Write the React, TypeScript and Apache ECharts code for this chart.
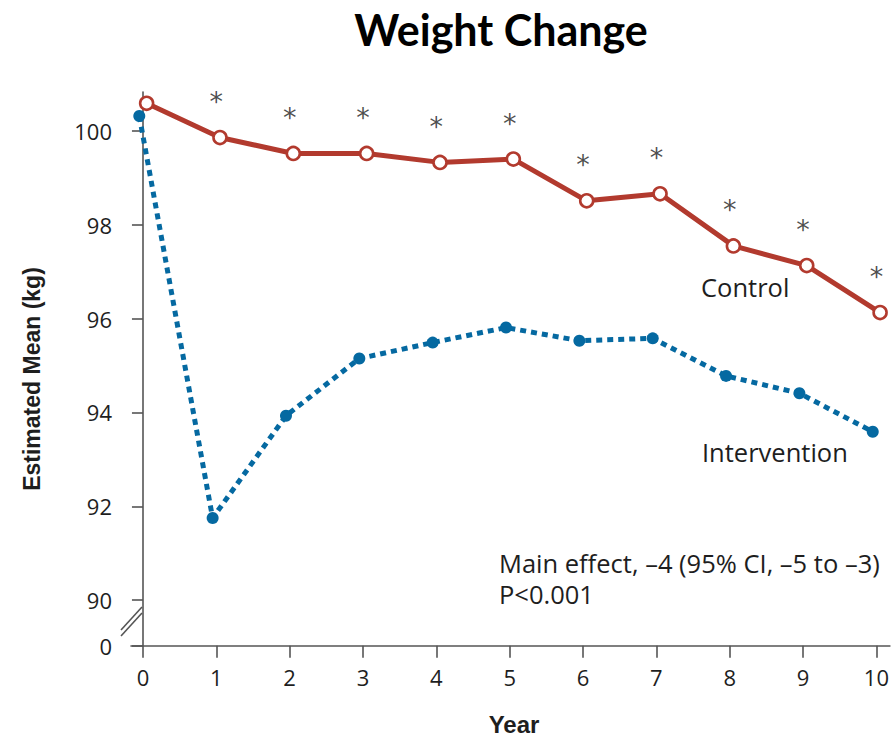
import React, { useEffect, useRef } from "react";
import * as echarts from "echarts";

// Study years on the x axis
const years = [0, 1, 2, 3, 4, 5, 6, 7, 8, 9, 10];
// Estimated mean body weight (kg) per year
const controlKg = [100.59, 99.86, 99.52, 99.52, 99.33, 99.4, 98.51, 98.66, 97.55, 97.13, 96.13];
const interventionKg = [100.32, 91.75, 93.93, 95.15, 95.49, 95.81, 95.53, 95.58, 94.78, 94.41, 93.59];
// Years with a significant between-group difference (asterisks)
const significantYears = [1, 2, 3, 4, 5, 6, 7, 8, 9, 10];
// Y axis ticks; the axis floor is labelled 0 below a break
const yTicks = [90, 92, 94, 96, 98, 100];
const yFloor = 89.03;
const yTop = 100.83;
const xMin = -0.163;
const xMax = 10.184;
// Small horizontal dodge so the two groups do not overlap
const dodge = 0.05;

const RED = "#b23a2e";
const BLUE = "#0569a1";
const INK = "#1e1e1e";
const AXIS = "#555555";
const BODY_FONT = "'Open Sans', Lato, sans-serif";
const BOLD_FONT = "'Liberation Sans', Arial, sans-serif";

export default function App() {
  const ref = useRef<HTMLDivElement>(null);

  useEffect(() => {
    if (!ref.current) return;
    const chart = echarts.init(ref.current, undefined, { renderer: "svg" });

    const option: any = {
      animation: false,
      backgroundColor: "#ffffff",
      grid: { left: 131, right: 0, top: 92, bottom: 92.3, containLabel: false },
      xAxis: {
        type: "value",
        min: xMin,
        max: xMax,
        splitLine: { show: false },
        axisLine: { lineStyle: { color: AXIS, width: 1.6 } },
        axisTick: {
          show: true,
          customValues: years,
          length: 12,
          lineStyle: { color: AXIS, width: 1.6 },
        },
        axisLabel: {
          customValues: years,
          margin: 20,
          color: INK,
          fontFamily: BODY_FONT,
          fontSize: 22,
          formatter: (v: number) => String(Math.round(v)),
        },
      },
      yAxis: {
        type: "value",
        min: yFloor,
        max: yTop,
        splitLine: { show: false },
        axisLine: { show: true, lineStyle: { color: AXIS, width: 1.6 } },
        axisTick: {
          show: true,
          customValues: [yFloor, ...yTicks],
          length: 11,
          lineStyle: { color: AXIS, width: 1.6 },
        },
        axisLabel: {
          customValues: [yFloor, ...yTicks],
          margin: 19,
          color: INK,
          fontFamily: BODY_FONT,
          fontSize: 22,
          formatter: (v: number) => (v < 89.5 ? "0" : String(Math.round(v))),
        },
      },
      series: [
        {
          name: "Intervention",
          type: "line",
          data: years.map((yr, i) => [yr - dodge, interventionKg[i]]),
          symbol: "circle",
          symbolSize: 12,
          itemStyle: { color: BLUE, borderWidth: 0 },
          lineStyle: { color: BLUE, width: 5, type: [6, 5] },
          z: 3,
        },
        {
          name: "Control",
          type: "line",
          data: years.map((yr, i) => [yr + dodge, controlKg[i]]),
          symbol: "circle",
          symbolSize: 13,
          itemStyle: { color: "#ffffff", borderColor: RED, borderWidth: 2.6 },
          lineStyle: { color: RED, width: 5 },
          z: 4,
        },
        {
          name: "Significance",
          type: "scatter",
          data: significantYears.map((yr) => [yr, controlKg[years.indexOf(yr)]]),
          symbolSize: 0,
          silent: true,
          label: {
            show: true,
            position: "inside",
            offset: [0, -36],
            formatter: "*",
            color: INK,
            fontFamily: "'DejaVu Sans', sans-serif",
            fontSize: 27,
          },
          z: 5,
        },
      ],
    };
    chart.setOption(option);

    // Axis-break marks between the 0 floor and 90
    const breakY = chart.convertToPixel({ yAxisIndex: 0 }, 89.6) as number;
    const axisX = chart.convertToPixel({ xAxisIndex: 0 }, xMin) as number;
    const breakLine = (dy: number) => ({
      type: "line",
      shape: { x1: axisX - 10, y1: breakY + 11 + dy, x2: axisX + 11, y2: breakY - 12 + dy },
      style: { stroke: AXIS, lineWidth: 1.6 },
      z: 10,
    });

    const bodyText = (text: string, x: number, y: number) => ({
      type: "text",
      x,
      y,
      style: {
        text,
        align: "left",
        verticalAlign: "middle",
        fill: INK,
        font: `25.5px ${BODY_FONT}`,
      },
    });

    chart.setOption({
      graphic: [
        {
          type: "text",
          x: 501,
          y: 29,
          style: {
            text: "Weight Change",
            align: "center",
            verticalAlign: "middle",
            fill: "#000000",
            font: "bold 43px Lato, 'Open Sans', sans-serif",
          },
        },
        {
          type: "text",
          x: 32,
          y: 379,
          rotation: Math.PI / 2,
          style: {
            text: "Estimated Mean (kg)",
            align: "center",
            verticalAlign: "middle",
            fill: INK,
            font: `bold 23px ${BOLD_FONT}`,
          },
        },
        {
          type: "text",
          x: 514,
          y: 724,
          style: {
            text: "Year",
            align: "center",
            verticalAlign: "middle",
            fill: INK,
            font: `bold 24px ${BOLD_FONT}`,
          },
        },
        bodyText("Control", 701, 287),
        bodyText("Intervention", 702, 452),
        bodyText("Main effect, \u20134 (95% CI, \u20135 to \u20133)", 499, 563),
        bodyText("P<0.001", 499, 594),
        breakLine(0),
        breakLine(6),
      ],
    });

    return () => chart.dispose();
  }, []);

  return (
    <div
      ref={ref}
      style={{ position: "fixed", left: 0, top: 0, width: 892, height: 738, background: "#fff" }}
    />
  );
}
